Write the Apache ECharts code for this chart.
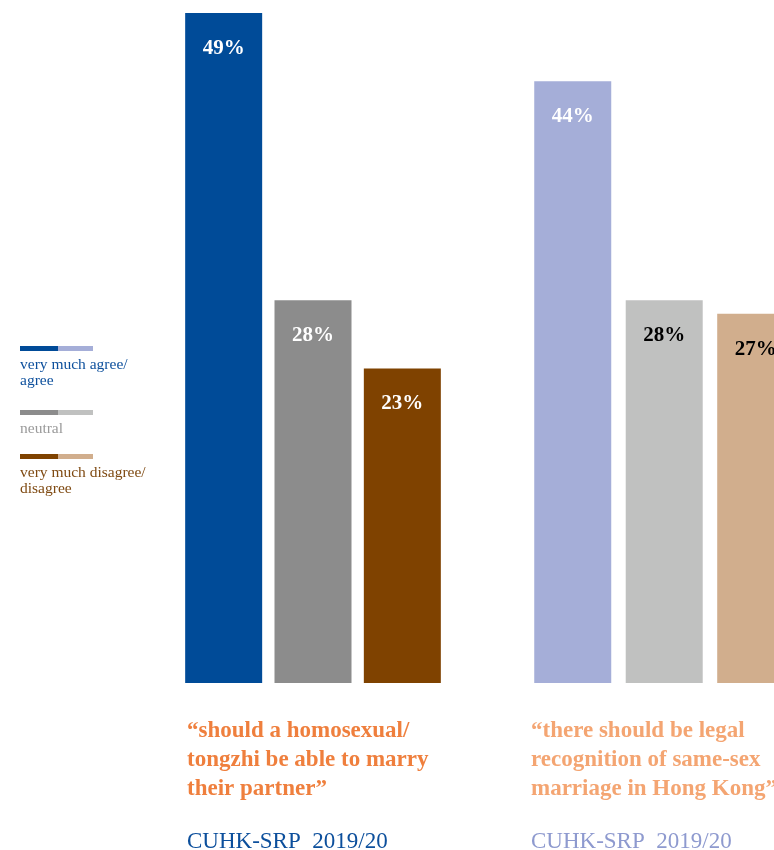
<!DOCTYPE html>
<html>
<head>
<meta charset="utf-8">
<script src="https://cdn.jsdelivr.net/npm/echarts@6/dist/echarts.min.js"></script>
<style>
  html, body { margin: 0; padding: 0; background: #fff; }
  #chart { width: 774px; height: 850px; }
</style>
</head>
<body>
<div id="chart"></div>
<script>
// data
const categories = ['very much agree/agree', 'neutral', 'very much disagree/disagree'];
const marryValues = [49, 28, 23];
const recognitionValues = [44, 28, 27];
const marryColors = ['#004b98', '#8c8c8c', '#7f4200'];
const recognitionColors = ['#a5aed8', '#c0c1c0', '#d1ae8d'];
const recognitionLabelColors = ['#ffffff', '#000000', '#000000'];
const legendLabels = ['very much agree/\nagree', 'neutral', 'very much disagree/\ndisagree'];
const legendTextColors = ['#0c4f9c', '#9a9a9a', '#7f4a12'];
const question1 = '“should a homosexual/\ntongzhi be able to marry\ntheir partner”';
const question2 = '“there should be legal\nrecognition of same-sex\nmarriage in Hong Kong”';
const source = 'CUHK-SRP  2019/20';

const serif = '"Liberation Serif", "DejaVu Serif", serif';

let myChart = echarts.init(document.getElementById('chart'));

// 图例
let graphics = [];
const legendY = [349, 413, 457];
legendLabels.forEach((txt, i) => {
    graphics.push({
        type: 'rect', left: 20, top: legendY[i] - 3,
        shape: { width: 38, height: 5 }, style: { fill: marryColors[i] }
    });
    graphics.push({
        type: 'rect', left: 58, top: legendY[i] - 3,
        shape: { width: 35, height: 5 }, style: { fill: recognitionColors[i] }
    });
    graphics.push({
        type: 'text', left: 20, top: legendY[i] + 8,
        style: { text: txt, fill: legendTextColors[i], font: '15.5px ' + serif, lineHeight: 16 }
    });
});

// 问题文字
graphics.push({
    type: 'text', left: 187, top: 717,
    style: { text: question1, fill: '#ef7f3d', font: 'bold 23px ' + serif, lineHeight: 29 }
});
graphics.push({
    type: 'text', left: 531, top: 717,
    style: { text: question2, fill: '#f4a572', font: 'bold 23px ' + serif, lineHeight: 29 }
});
graphics.push({
    type: 'text', left: 187, top: 830,
    style: { text: source, fill: '#0c4f9c', font: '23px ' + serif }
});
graphics.push({
    type: 'text', left: 531, top: 830,
    style: { text: source, fill: '#8e9acf', font: '23px ' + serif }
});

const labelBase = {
    show: true, position: 'insideTop', distance: 25,
    fontFamily: serif, fontWeight: 'bold', fontSize: 21,
    formatter: (p) => p.value[1] + '%'
};

myChart.setOption({
    animation: false,
    backgroundColor: '#ffffff',
    grid: [
        { left: 179, width: 268, top: 13, bottom: 167 },
        { left: 527, right: 0, top: 13, bottom: 167 }
    ],
    xAxis: [
        { type: 'value', gridIndex: 0, min: -0.5, max: 2.5, show: false },
        // 第二组右侧被截断
        { type: 'value', gridIndex: 1, min: -0.5, max: 2.2, show: false }
    ],
    yAxis: [
        { type: 'value', gridIndex: 0, min: 0, max: 49, show: false },
        { type: 'value', gridIndex: 1, min: 0, max: 49, show: false }
    ],
    series: [
        {
            type: 'bar', xAxisIndex: 0, yAxisIndex: 0, barWidth: 77,
            data: marryValues.map((v, i) => ({
                value: [i, v], name: categories[i], itemStyle: { color: marryColors[i] }
            })),
            label: Object.assign({}, labelBase, { color: '#ffffff' })
        },
        {
            type: 'bar', xAxisIndex: 1, yAxisIndex: 1, barWidth: 77,
            data: recognitionValues.map((v, i) => ({
                value: [i, v], name: categories[i], itemStyle: { color: recognitionColors[i] },
                label: { color: recognitionLabelColors[i] }
            })),
            label: labelBase
        }
    ],
    graphic: graphics
});
</script>
</body>
</html>
